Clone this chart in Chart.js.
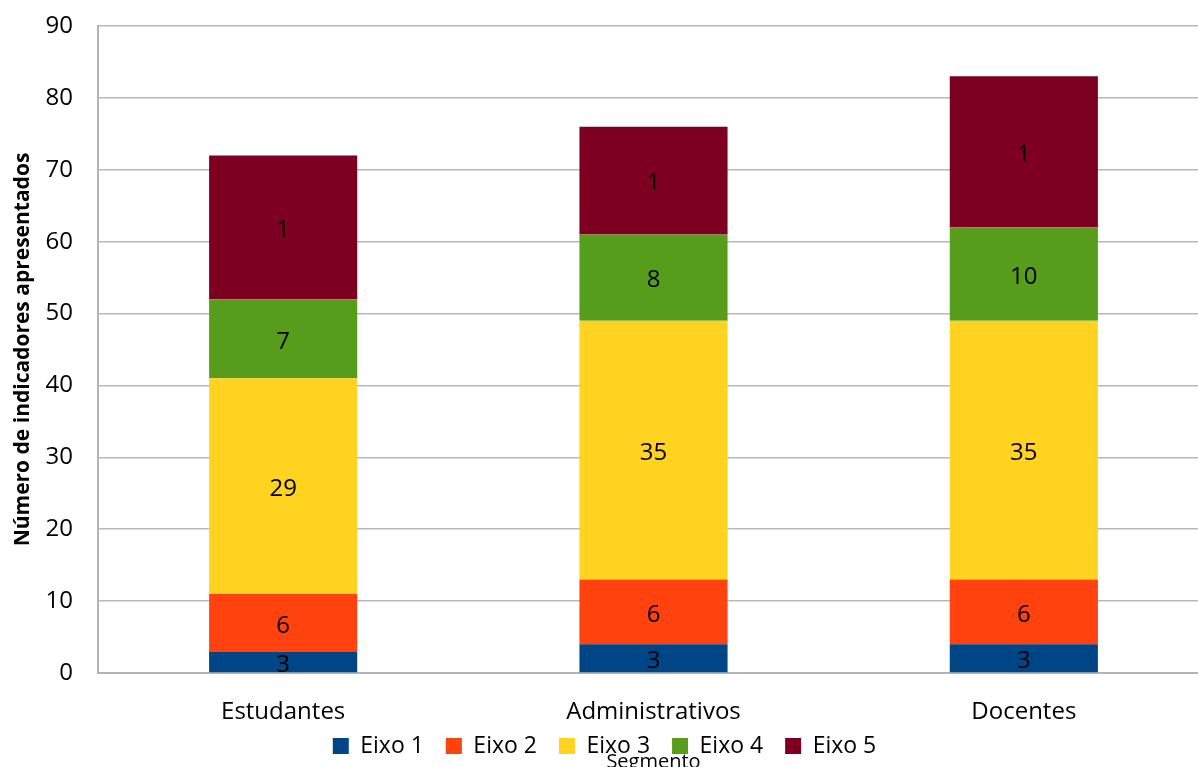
<!DOCTYPE html>
<html>
<head>
<meta charset="utf-8">
<script src="https://cdn.jsdelivr.net/npm/chart.js@4.4.1/dist/chart.umd.min.js"></script>
<style>
  html, body { margin: 0; padding: 0; background: #ffffff; overflow: hidden; }
  #wrap { width: 1212px; height: 767px; }
</style>
</head>
<body>
<div id="wrap"><canvas id="c" width="1212" height="767"></canvas></div>
<script>
// Categories and tick values
const categories = ['Estudantes', 'Administrativos', 'Docentes'];
const seriesNames = ['Eixo 1', 'Eixo 2', 'Eixo 3', 'Eixo 4', 'Eixo 5'];
const seriesColors = ['#004586', '#ff420e', '#ffd320', '#579d1c', '#7e0021'];

// Segment heights as drawn in the picture
const eixo1 = [3, 4, 4];
const eixo2 = [8, 9, 9];
const eixo3 = [30, 36, 36];
const eixo4 = [11, 12, 13];
const eixo5 = [20, 15, 21];

// Labels printed inside each segment
const eixo1Labels = ['3', '3', '3'];
const eixo2Labels = ['6', '6', '6'];
const eixo3Labels = ['29', '35', '35'];
const eixo4Labels = ['7', '8', '10'];
const eixo5Labels = ['1', '1', '1'];

const yMin = 0, yMax = 90, yStep = 10;
const yTitle = 'Número de indicadores apresentados';
const xTitle = 'Segmento';

const seriesValues = [eixo1, eixo2, eixo3, eixo4, eixo5];
const seriesLabels = [eixo1Labels, eixo2Labels, eixo3Labels, eixo4Labels, eixo5Labels];

Chart.defaults.font.family = '"Open Sans", sans-serif';
Chart.defaults.color = '#000000';

const segLabelPlugin = {
  id: 'segLabels',
  afterDatasetsDraw(chart) {
    const ctx = chart.ctx;
    ctx.save();
    ctx.font = '24px "Open Sans", sans-serif';
    ctx.fillStyle = '#000000';
    ctx.textAlign = 'center';
    ctx.textBaseline = 'middle';
    chart.data.datasets.forEach((ds, di) => {
      const meta = chart.getDatasetMeta(di);
      meta.data.forEach((bar, i) => {
        const p = bar.getProps(['x', 'y', 'base'], true);
        ctx.fillText(seriesLabels[di][i], p.x, (p.y + p.base) / 2 + 3);
      });
    });
    ctx.restore();
  }
};

// Legend sits slightly over the bottom of the axis box, as in the original
const legendLift = {
  id: 'legendLift',
  afterLayout(chart) {
    const lg = chart.legend;
    if (lg) { lg.top -= 12.5; lg.bottom -= 12.5; }
  }
};

new Chart(document.getElementById('c'), {
  type: 'bar',
  data: {
    labels: categories,
    datasets: seriesNames.map((name, i) => ({
      label: name,
      data: seriesValues[i],
      backgroundColor: seriesColors[i],
      borderWidth: 0,
      categoryPercentage: 1.0,
      barPercentage: 0.4
    }))
  },
  options: {
    responsive: false,
    animation: false,
    layout: { padding: { top: 26, right: 3, left: 0, bottom: 0 } },
    plugins: {
      legend: {
        position: 'bottom',
        maxHeight: 42,
        labels: {
          font: { size: 23 },
          color: '#000000',
          boxWidth: 16,
          boxHeight: 16,
          padding: 22
        }
      },
      tooltip: { enabled: false }
    },
    scales: {
      x: {
        stacked: true,
        grid: { display: false, drawTicks: false },
        border: { display: true, color: '#b3b3b3', width: 2 },
        ticks: { font: { size: 24 }, color: '#000000', padding: 25 },
        title: {
          display: true,
          text: xTitle,
          font: { size: 20 },
          color: '#000000',
          padding: { top: 0, bottom: -49 }
        },
        afterFit(scale) { scale.height = 52; }
      },
      y: {
        stacked: true,
        min: yMin,
        max: yMax,
        ticks: { stepSize: yStep, font: { size: 24 }, color: '#000000', padding: 25 },
        grid: { color: '#b8b8b8', lineWidth: 1.5, drawTicks: false, tickLength: 0 },
        border: { display: true, color: '#b3b3b3', width: 2 },
        title: {
          display: true,
          text: yTitle,
          font: { size: 21, weight: 'bold' },
          color: '#000000',
          padding: { top: 10, bottom: 0 }
        },
        afterFit(scale) {
          scale.width = 98;
          scale.paddingTop = 0;
          scale.paddingBottom = 0;
        }
      }
    }
  },
  plugins: [segLabelPlugin, legendLift]
});
</script>
</body>
</html>
